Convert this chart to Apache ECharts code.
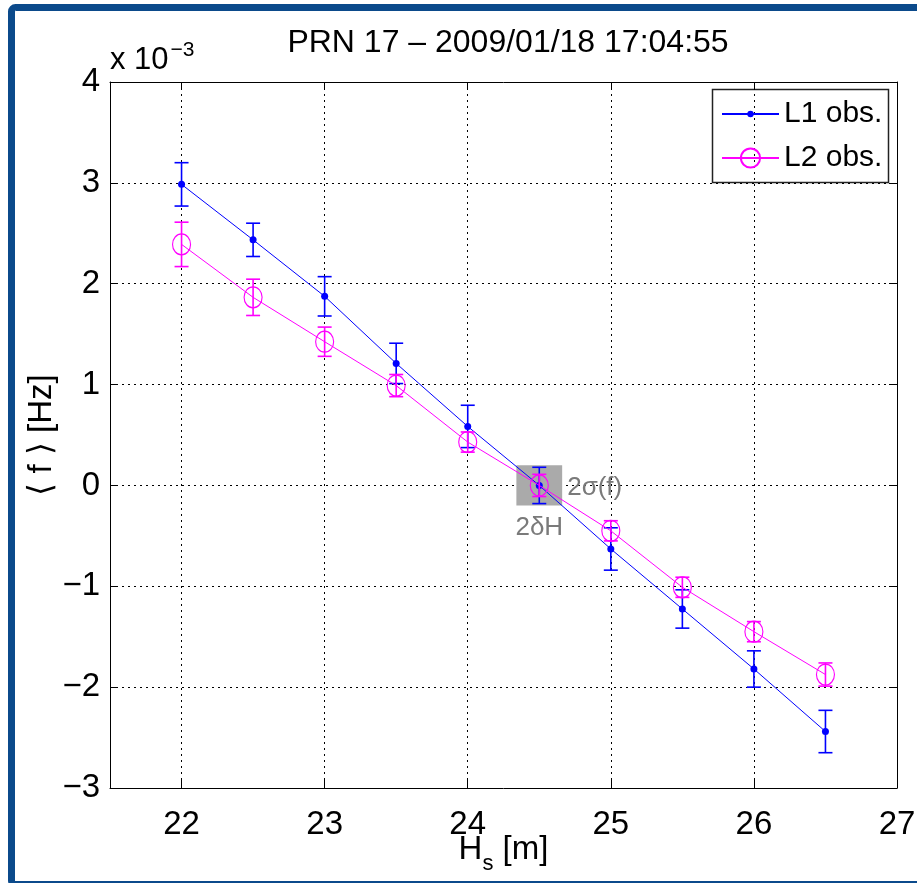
<!DOCTYPE html>
<html>
<head>
<meta charset="utf-8">
<script src="https://cdn.jsdelivr.net/npm/echarts@6/dist/echarts.min.js"></script>
<style>
  html, body { margin: 0; padding: 0; background: #ffffff; }
  #chart { width: 917px; height: 883px; }
</style>
</head>
<body>
<div id="chart"></div>
<script>
// values are in units of 1e-3 Hz
const hs = [22, 22.5, 23, 23.5, 24, 24.5, 25, 25.5, 26, 26.5];
const l1 = [2.985, 2.435, 1.875, 1.21, 0.585, 0.0, -0.63, -1.225, -1.82, -2.44];
const l1Err = [0.215, 0.165, 0.195, 0.2, 0.21, 0.18, 0.21, 0.19, 0.18, 0.21];
const l2 = [2.39, 1.865, 1.425, 0.99, 0.43, 0.0, -0.45, -1.01, -1.45, -1.875];
const l2Err = [0.22, 0.18, 0.145, 0.11, 0.1, 0.11, 0.1, 0.1, 0.1, 0.115];
const xTicks = [22, 23, 24, 25, 26, 27];
// uncertainty box around the reference point (2δH wide, 2σ(f) tall)
const boxCenter = [24.5, 0];
const boxHalf = [0.16, 0.2];

const FONT = '"Liberation Sans", Arial, sans-serif';
const BLUE = '#0000ff';
const MAGENTA = '#ff00ff';

function errData(ys, errs) {
  return hs.map((x, i) => [x, ys[i] - errs[i], ys[i] + errs[i]]);
}

function errRender(color) {
  return function (params, api) {
    const x = api.value(0);
    const lo = api.coord([x, api.value(1)]);
    const hi = api.coord([x, api.value(2)]);
    const w = 7;
    const st = { stroke: color, lineWidth: 1.6 };
    return {
      type: 'group',
      children: [
        { type: 'line', shape: { x1: lo[0], y1: lo[1], x2: hi[0], y2: hi[1] }, style: st },
        { type: 'line', shape: { x1: lo[0] - w, y1: lo[1], x2: lo[0] + w, y2: lo[1] }, style: st },
        { type: 'line', shape: { x1: hi[0] - w, y1: hi[1], x2: hi[0] + w, y2: hi[1] }, style: st }
      ]
    };
  };
}

const chart = echarts.init(document.getElementById('chart'));

const tickLabel = { color: '#000', fontFamily: FONT, fontSize: 33 };
const gridLine = { show: true, lineStyle: { color: '#000', type: [2, 4], width: 1 } };
const legendText = { color: '#000', fontFamily: FONT, fontSize: 30, lineHeight: 36 };

chart.setOption({
  backgroundColor: '#ffffff',
  animation: false,
  title: {
    text: 'PRN 17 – 2009/01/18 17:04:55',
    left: 503, top: 22, textAlign: 'center',
    textStyle: { color: '#000', fontFamily: FONT, fontSize: 32, fontWeight: 'normal' }
  },
  grid: { left: 110, top: 82, right: 20, bottom: 95, outerBoundsMode: 'none', containLabel: false },
  legend: [{
    data: ['L1 obs.'],
    left: 721, top: 96, padding: 0,
    itemWidth: 57, itemHeight: 8, itemGap: 8,
    textStyle: legendText
  }, {
    data: ['L2 obs.'],
    left: 721, top: 140, padding: 0,
    itemWidth: 57, itemHeight: 24, itemGap: 8,
    textStyle: legendText
  }],
  xAxis: [{
    type: 'value', min: 21.5, max: 27,
    name: '{h|H}{s|s}{h| [m]}',
    nameLocation: 'middle', nameGap: 37, nameMoveOverlap: false,
    nameTextStyle: {
      rich: {
        h: { fontFamily: FONT, fontSize: 33, color: '#000' },
        s: { fontFamily: FONT, fontSize: 22, color: '#000', padding: [28, 0, 0, 0] }
      }
    },
    axisLine: { onZero: false, lineStyle: { color: '#000', width: 1 } },
    axisTick: { inside: true, length: 8, customValues: xTicks, lineStyle: { color: '#000' } },
    axisLabel: Object.assign({ margin: 20, customValues: xTicks }, tickLabel),
    splitLine: gridLine
  }, {
    type: 'value', min: 21.5, max: 27, position: 'top',
    axisLine: { onZero: false, lineStyle: { color: '#000', width: 1 } },
    axisTick: { inside: true, length: 8, customValues: xTicks, lineStyle: { color: '#000' } },
    axisLabel: { show: false },
    splitLine: { show: false }
  }],
  yAxis: [{
    type: 'value', min: -3, max: 4, interval: 1,
    name: '⟨ f ⟩ [Hz]',
    nameLocation: 'middle', nameGap: 52, nameMoveOverlap: false,
    nameTextStyle: { color: '#000', fontFamily: FONT, fontSize: 33 },
    axisLine: { show: true, onZero: false, lineStyle: { color: '#000', width: 1 } },
    axisTick: { show: true, inside: true, length: 8, lineStyle: { color: '#000' } },
    axisLabel: Object.assign({ margin: 10, formatter: v => String(v).replace('-', '−') }, tickLabel),
    splitLine: gridLine
  }, {
    type: 'value', min: -3, max: 4, interval: 1, position: 'right',
    axisLine: { show: true, onZero: false, lineStyle: { color: '#000', width: 1 } },
    axisTick: { show: true, inside: true, length: 8, lineStyle: { color: '#000' } },
    axisLabel: { show: false },
    splitLine: { show: false }
  }],
  graphic: [
    {
      type: 'rect', z: 100,
      shape: { x: 11.5, y: 7.5, width: 1000, height: 877, r: 4 },
      style: { fill: 'none', stroke: '#0b4a8b', lineWidth: 7 }
    },
    {
      // legend frame
      type: 'rect', z: 0,
      shape: { x: 712.5, y: 89.5, width: 176, height: 93 },
      style: { fill: '#fff', stroke: '#222', lineWidth: 1.5 }
    },
    {
      type: 'text', left: 110, top: 40,
      style: {
        text: '{a|x 10}{b|−3}',
        rich: {
          a: { fontFamily: FONT, fontSize: 31, fill: '#000' },
          b: { fontFamily: FONT, fontSize: 21, fill: '#000', padding: [0, 0, 20, 2] }
        }
      }
    }
  ],
  series: [
    {
      type: 'custom', name: 'box', z: 1, silent: true,
      data: [[boxCenter[0], boxCenter[1]]],
      renderItem: function (params, api) {
        const tl = api.coord([boxCenter[0] - boxHalf[0], boxCenter[1] + boxHalf[1]]);
        const br = api.coord([boxCenter[0] + boxHalf[0], boxCenter[1] - boxHalf[1]]);
        const c = api.coord(boxCenter);
        const ts = { fontFamily: FONT, fontSize: 26, fill: '#7a7a7a' };
        return {
          type: 'group',
          children: [
            { type: 'rect', shape: { x: tl[0], y: tl[1], width: br[0] - tl[0], height: br[1] - tl[1] },
              style: { fill: '#aaaaaa' } },
            { type: 'text', x: br[0] + 5, y: c[1] + 2,
              style: Object.assign({ text: '2σ(f)', verticalAlign: 'middle', align: 'left' }, ts) },
            { type: 'text', x: c[0], y: br[1] + 22,
              style: Object.assign({ text: '2δH', verticalAlign: 'middle', align: 'center' }, ts) }
          ]
        };
      }
    },
    {
      type: 'custom', name: 'L1 err', z: 3, silent: true,
      data: errData(l1, l1Err),
      renderItem: errRender(BLUE)
    },
    {
      type: 'line', name: 'L1 obs.', z: 4,
      data: hs.map((x, i) => [x, l1[i]]),
      symbol: 'circle', symbolSize: 7,
      itemStyle: { color: BLUE },
      lineStyle: { color: BLUE, width: 1 }
    },
    {
      type: 'custom', name: 'L2 err', z: 5, silent: true,
      data: errData(l2, l2Err),
      renderItem: errRender(MAGENTA)
    },
    {
      type: 'line', name: 'L2 obs.', z: 6,
      data: hs.map((x, i) => [x, l2[i]]),
      symbol: 'circle', symbolSize: [18, 21],
      itemStyle: { color: 'rgba(0,0,0,0)', borderColor: MAGENTA, borderWidth: 1.2 },
      lineStyle: { color: MAGENTA, width: 1 }
    }
  ]
});
</script>
</body>
</html>
